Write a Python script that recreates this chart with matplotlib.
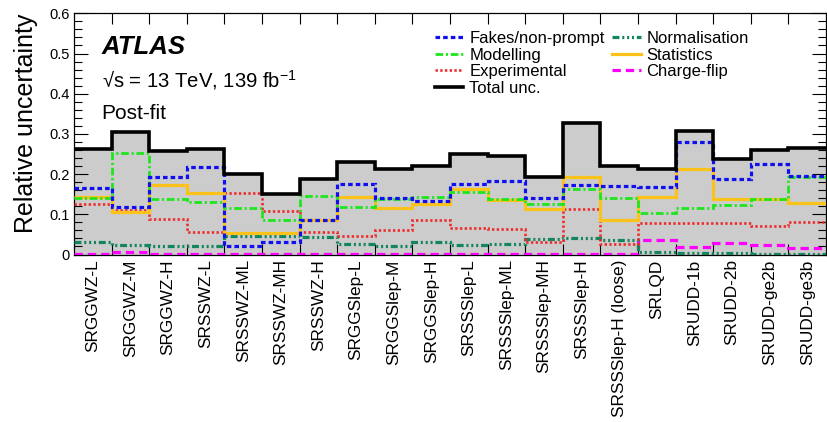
# post-fit relative uncertainty breakdown per signal region
# saves plot to out.png

import numpy as np
import matplotlib
matplotlib.use("Agg")
import matplotlib.pyplot as plt
from matplotlib.lines import Line2D
from matplotlib.ticker import MultipleLocator, FuncFormatter

plt.rcParams['font.family'] = ['Liberation Sans', 'DejaVu Sans']
plt.rcParams['mathtext.default'] = 'regular'
plt.rcParams['lines.scale_dashes'] = False

regions = ["SRGGWZ-L", "SRGGWZ-M", "SRGGWZ-H", "SRSSWZ-L", "SRSSWZ-ML",
           "SRSSWZ-MH", "SRSSWZ-H", "SRGGSlep-L", "SRGGSlep-M", "SRGGSlep-H",
           "SRSSSlep-L", "SRSSSlep-ML", "SRSSSlep-MH", "SRSSSlep-H",
           "SRSSSlep-H (loose)", "SRLQD", "SRUDD-1b", "SRUDD-2b",
           "SRUDD-ge2b", "SRUDD-ge3b"]

total = [0.262, 0.304, 0.257, 0.263, 0.201, 0.150, 0.189, 0.229, 0.212, 0.220,
         0.251, 0.246, 0.194, 0.326, 0.221, 0.213, 0.308, 0.238, 0.260, 0.265]
fakes = [0.166, 0.117, 0.194, 0.218, 0.021, 0.031, 0.086, 0.176, 0.140, 0.134,
         0.175, 0.184, 0.140, 0.173, 0.170, 0.167, 0.279, 0.188, 0.226, 0.196]
modelling = [0.140, 0.253, 0.137, 0.130, 0.115, 0.086, 0.146, 0.117, 0.138, 0.144,
             0.155, 0.139, 0.126, 0.162, 0.140, 0.102, 0.116, 0.124, 0.138, 0.194]
experimental = [0.125, 0.110, 0.088, 0.057, 0.152, 0.107, 0.057, 0.047, 0.062, 0.087,
                0.067, 0.063, 0.031, 0.113, 0.025, 0.078, 0.078, 0.078, 0.072, 0.080]
statistics = [0.142, 0.105, 0.174, 0.153, 0.053, 0.054, 0.087, 0.144, 0.116, 0.126,
              0.162, 0.136, 0.114, 0.192, 0.087, 0.142, 0.213, 0.137, 0.137, 0.128]
normalisation = [0.032, 0.024, 0.022, 0.021, 0.045, 0.046, 0.044, 0.026, 0.021, 0.030,
                 0.024, 0.025, 0.038, 0.042, 0.036, 0.005, 0.003, 0.003, 0.002, 0.002]
chargeflip = [0.002, 0.007, 0.002, 0.001, 0.001, 0.001, 0.001, 0.001, 0.001, 0.001,
              0.001, 0.001, 0.001, 0.001, 0.001, 0.036, 0.019, 0.029, 0.024, 0.015]

n = len(regions)
edges = np.arange(n + 1)
centers = edges[:-1] + 0.5

fig = plt.figure(figsize=(8.27, 4.22), dpi=100)
ax = fig.add_axes([74/827, 1 - 254.5/422, 752/827, 241.2/422])

# grey band = total uncertainty
ax.stairs(total, edges, baseline=0, fill=True, color='#cccccc', lw=0, zorder=1)

# charge-flip sits on the x axis for most bins, keep it above the spine
ax.stairs(chargeflip, edges, baseline=None, color='#ff00ff', lw=2.3,
          ls=(0, (6, 3.6)), label='Charge-flip', zorder=2.6)
ax.stairs(normalisation, edges, baseline=None, color='#14865f', lw=2.3,
          ls=(0, (5, 2, 1.5, 2, 1.5, 2, 1.5, 2)), label='Normalisation', zorder=3)
ax.stairs(experimental, edges, baseline=None, color='#ee2a2a', lw=1.9,
          ls=(0, (1.7, 1.7)), label='Experimental', zorder=4)
ax.stairs(statistics, edges, baseline=None, color='#fbc219', lw=2.3,
          ls='-', label='Statistics', zorder=5)
ax.stairs(modelling, edges, baseline=None, color='#1ee61e', lw=2.0,
          ls=(0, (5.5, 2, 1.5, 2)), label='Modelling', zorder=6)
ax.stairs(fakes, edges, baseline=None, color='#1010ee', lw=2.3,
          ls=(0, (3.3, 2.2)), label='Fakes/non-prompt', zorder=7)
ax.stairs(total, edges, baseline=None, color='black', lw=2.6,
          label='Total unc.', zorder=8)

ax.set_xlim(0, n)
ax.set_ylim(0, 0.6)

# bin-edge ticks, labels sit at the bin centres
ax.set_xticks(edges[1:-1])
ax.set_xticks(centers, labels=regions, minor=True, rotation=90)
ax.tick_params(axis='x', which='major', direction='in', top=True, bottom=True,
               length=8, width=0.8, labelbottom=False)
ax.tick_params(axis='x', which='minor', length=0, pad=3.5, labelsize=12.4)

ax.set_yticks(np.arange(0, 0.61, 0.1))
ax.yaxis.set_minor_locator(MultipleLocator(0.02))
ax.yaxis.set_major_formatter(FuncFormatter(lambda v, _: '0' if abs(v) < 1e-9 else f'{v:.1f}'))
ax.tick_params(axis='y', which='both', direction='in', left=True, right=True,
               width=0.8, labelsize=10.5, pad=3)
ax.tick_params(axis='y', which='major', length=10)
ax.tick_params(axis='y', which='minor', length=5.5)
for s in ax.spines.values():
    s.set_linewidth(0.9)

ax.set_ylabel('Relative uncertainty', fontsize=18, loc='top', labelpad=8)

ax.text(0.0368, 0.831, 'ATLAS', transform=ax.transAxes, fontsize=18.5,
        fontweight='bold', fontstyle='italic', va='baseline')
ax.text(0.0368, 0.694, '√s = 13 TeV, 139 fb$^{-1}$', transform=ax.transAxes,
        fontsize=14.6, va='baseline')
ax.text(0.0368, 0.562, 'Post-fit', transform=ax.transAxes, fontsize=15,
        va='baseline')

# legend: two columns, filled column-wise
h, l = ax.get_legend_handles_labels()
order = ['Fakes/non-prompt', 'Modelling', 'Experimental', 'Total unc.',
         'Normalisation', 'Statistics', 'Charge-flip']
hd = dict(zip(l, h))
handles = []
for name in order:
    src = hd[name]
    handles.append(Line2D([], [], color=src.get_edgecolor(), lw=src.get_linewidth(),
                          ls=src.get_linestyle()))
ax.legend(handles, order, ncol=2, loc='upper left', frameon=False,
          bbox_to_anchor=(435/827, 1 - 31/422), bbox_transform=fig.transFigure,
          fontsize=12, borderpad=0, borderaxespad=0, handlelength=1.7,
          handletextpad=0.36, columnspacing=0.45, labelspacing=0.1)

fig.savefig('out.png', dpi=100)
